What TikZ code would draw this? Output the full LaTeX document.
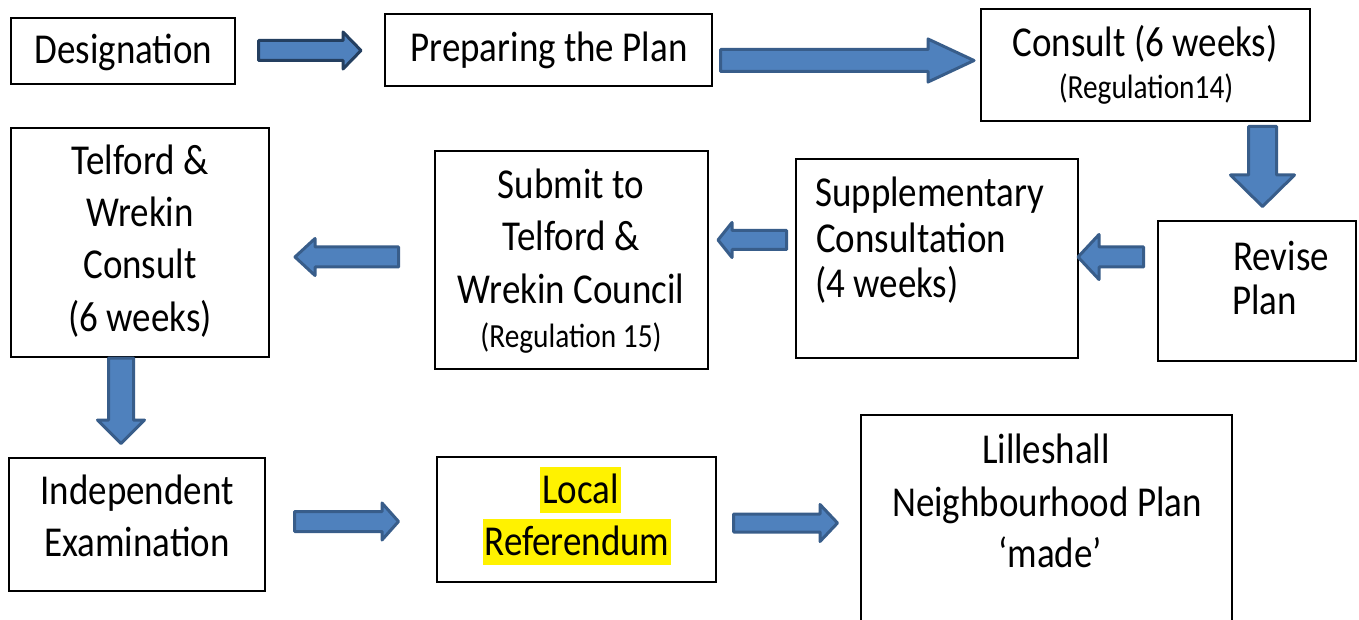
\documentclass[tikz,border=0pt]{standalone}
\usepackage{fontspec}
\setmainfont{Carlito}[FakeStretch=0.868]
\begin{document}
\begin{tikzpicture}[x=1pt,y=-1pt,
  box/.style={draw=black,line width=2pt,fill=white,inner sep=0pt,outer sep=0pt},
  txt/.style={anchor=base,inner sep=0pt,font=\fontsize{42.6}{52}\selectfont},
  txtl/.style={txt,anchor=base west},
  smalltxt/.style={anchor=base,inner sep=0pt,font=\fontsize{33.8}{40}\selectfont},
  hl/.style={txt,fill=yellow,inner xsep=2pt,inner ysep=0pt,text height=36pt,text depth=10pt},
  blockarrow/.style={fill=arrowfill,draw=arrowline,line width=3pt,line join=round},
  blockarrowdark/.style={blockarrow,draw=arrowdark}]
\definecolor{arrowfill}{HTML}{4F81BD}
\definecolor{arrowline}{HTML}{385D8A}
\definecolor{arrowdark}{HTML}{243F60}
\useasboundingbox (0,0) rectangle (1359,620);
\fill[white] (0,0) rectangle (1359,620);

% boxes
\node[box,minimum width=224pt,minimum height=66pt] (desig) at (123,51) {};
\node[box,minimum width=327pt,minimum height=72pt] (prep) at (548.5,50) {};
\node[box,minimum width=329pt,minimum height=112pt] (consult) at (1145.5,65) {};
\node[box,minimum width=198pt,minimum height=140pt] (revise) at (1257,291) {};
\node[box,minimum width=282pt,minimum height=199pt] (supp) at (937,258.5) {};
\node[box,minimum width=273pt,minimum height=218pt] (submit) at (571.5,260) {};
\node[box,minimum width=258pt,minimum height=229pt] (twc) at (140,242.5) {};
\node[box,minimum width=256pt,minimum height=133pt] (indep) at (137,524.5) {};
\node[box,minimum width=279pt,minimum height=125pt] (local) at (576.5,519.5) {};
\node[box,minimum width=371pt,minimum height=225pt] (made) at (1046.5,527.5) {};

% texts
\node[txt] (t-desig) at (123.5,64) {Designation};
\node[txt] (t-prep) at (549,62) {Preparing the Plan};
\node[txt] (t-cons1) at (1145,57) {Consult (6 weeks)};
\node[smalltxt] (t-cons2) at (1146,99) {(Regulation14)};
\node[txtl] (t-rev1) at (1233,270) {Revise};
\node[txtl] (t-rev2) at (1232,314) {Plan};
\node[txtl] (t-supp1) at (815,207) {Supplementary};
\node[txtl] (t-supp2) at (816,253) {Consultation};
\node[txtl] (t-supp3) at (815,298) {(4 weeks)};
\node[txt] (t-sub1) at (571,199) {Submit to};
\node[txt] (t-sub2) at (571,251) {Telford \&};
\node[txt] (t-sub3) at (571,303) {Wrekin Council};
\node[smalltxt] (t-sub4) at (571,347) {(Regulation 15)};
\node[txt] (t-twc1) at (140,175) {Telford \&};
\node[txt] (t-twc2) at (140,227) {Wrekin};
\node[txt] (t-twc3) at (140,279) {Consult};
\node[txt] (t-twc4) at (140,331) {(6 weeks)};
\node[txt] (t-ind1) at (137,504) {Independent};
\node[txt] (t-ind2) at (137,556) {Examination};
\node[hl] (t-loc1) at (580.5,503) {Local~};
\node[hl] (t-loc2) at (577,555) {Referendum};
\node[txt] (t-made1) at (1046,463) {Lilleshall};
\node[txt] (t-made2) at (1047,516) {Neighbourhood Plan};
\node[txt] (t-made3) at (1050,567) {‘made’};

% block arrows: (start, head base, tip, centre, shaft half, head half)
\newcommand\harrowshape[7][blockarrow]{%
  \draw[#1] (#2,#5-#6) -- (#3,#5-#6) -- (#3,#5-#7) -- (#4,#5) -- (#3,#5+#7) -- (#3,#5+#6) -- (#2,#5+#6) -- cycle;}
\newcommand\varrowshape[7][blockarrow]{%
  \draw[#1] (#5-#6,#2) -- (#5-#6,#3) -- (#5-#7,#3) -- (#5,#4) -- (#5+#7,#3) -- (#5+#6,#3) -- (#5+#6,#2) -- cycle;}

\harrowshape[blockarrowdark]{258.5}{343}{361}{50.5}{10}{18.5}
\harrowshape{720.5}{928}{974}{60.5}{11}{21.5}
\varrowshape{126.5}{175}{206.5}{1262.5}{14}{32}
\harrowshape{1143.5}{1099}{1078}{257}{10}{22.5}
\harrowshape{786.5}{732}{718}{240}{9.5}{17.5}
\harrowshape{398.5}{315}{295}{257}{10}{18.5}
\varrowshape{358}{420}{443.5}{121}{12.5}{23.5}
\harrowshape{294.5}{382}{398.5}{521.5}{10}{18.5}
\harrowshape{733.5}{820}{837.5}{523}{9}{18.5}
\end{tikzpicture}
\end{document}
